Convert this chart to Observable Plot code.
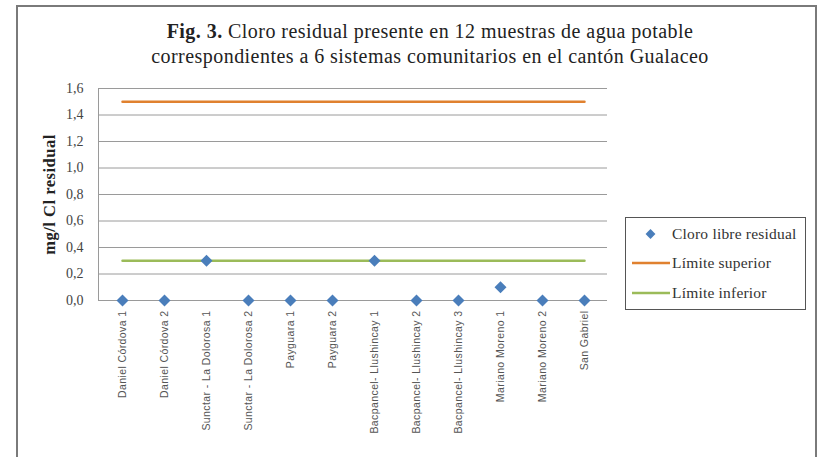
<!DOCTYPE html>
<html>
<head>
<meta charset="utf-8">
<script src="https://cdn.jsdelivr.net/npm/d3@7"></script>
<script src="https://cdn.jsdelivr.net/npm/@observablehq/plot@0.6"></script>
<style>
  html, body { margin: 0; padding: 0; background: #fff; width: 823px; height: 457px; overflow: hidden; }
  #frame { position: absolute; left: 16px; top: 5px; width: 801px; height: 470px; border: 2px solid #7a7a7a; border-bottom: none; box-sizing: border-box; }
  #title { position: absolute; left: 80px; width: 700px; top: 19px; text-align: center; font-family: "Liberation Serif", serif; font-size: 20px; letter-spacing: 0.45px; line-height: 25px; color: #222; }
  #chart { position: absolute; left: 0; top: 0; }
  #chart svg g[aria-label="y-axis tick label"] text { font-family: "Liberation Serif", serif; }
  #chart svg g[aria-label="y-axis label"] text { font-family: "Liberation Serif", serif; font-weight: bold; font-size: 16.5px; letter-spacing: 0.5px; fill: #222; }
  #chart svg g[aria-label="x-axis tick label"] text { letter-spacing: 0.4px; }
  #legend { position: absolute; left: 625px; top: 217px; width: 181px; height: 93px; border: 1px solid #555; box-sizing: border-box; font-family: "Liberation Serif", serif; font-size: 15.5px; letter-spacing: 0.2px; color: #333; background: #fff; }
  .li { position: absolute; left: 6px; height: 20px; display: flex; align-items: center; }
  .li svg { width: 38px; height: 14px; margin-right: 2px; }
</style>
</head>
<body>
<div id="frame"></div>
<div id="title"><b>Fig. 3.</b> Cloro residual presente en 12 muestras de agua potable<br>correspondientes a 6 sistemas comunitarios en el cantón Gualaceo</div>
<div id="chart"></div>
<div id="legend"></div>
<script>
const categories = [
  "Daniel Córdova 1", "Daniel Córdova 2",
  "Sunctar - La Dolorosa 1", "Sunctar - La Dolorosa 2",
  "Payguara 1", "Payguara 2",
  "Bacpancel- Llushincay 1", "Bacpancel- Llushincay 2", "Bacpancel- Llushincay 3",
  "Mariano Moreno 1", "Mariano Moreno 2", "San Gabriel"
];
const cloroLibre = [0, 0, 0.3, 0, 0, 0, 0.3, 0, 0, 0.1, 0, 0];
const limiteSuperior = 1.5;
const limiteInferior = 0.3;
const yTicks = [0, 0.2, 0.4, 0.6, 0.8, 1.0, 1.2, 1.4, 1.6];
const seriesNames = ["Cloro libre residual", "Límite superior", "Límite inferior"];
const colors = { point: "#4a7ebb", sup: "#e0812f", inf: "#9bbb59" };

const pts = categories.map((c, i) => ({ cat: c, v: cloroLibre[i] }));
const sup = categories.map(c => ({ cat: c, v: limiteSuperior }));
const inf = categories.map(c => ({ cat: c, v: limiteInferior }));

const chart = Plot.plot({
  width: 823,
  height: 457,
  marginLeft: 98,
  marginRight: 216,
  marginTop: 88,
  marginBottom: 157,
  style: { background: "transparent", overflow: "visible" },
  x: { type: "point", domain: categories, padding: 0.5, align: 0.5 },
  y: { domain: [0, 1.6] },
  marks: [
    Plot.gridY(yTicks, { stroke: "#9a9a9a", strokeOpacity: 1, strokeWidth: 1 }),
    Plot.frame({ anchor: "left", stroke: "#9a9a9a" }),
    Plot.axisY({ ticks: yTicks, tickFormat: d => d.toFixed(1).replace(".", ","), tickSize: 0, tickPadding: 15, fontSize: 14, fill: "#444",
      label: "mg/l Cl residual", labelAnchor: "center", labelArrow: "none", labelOffset: 55 }),
    Plot.axisX({ tickRotate: -90, tickSize: 0, tickPadding: 10, fontSize: 10.5, fontFamily: "Liberation Sans, Arial, sans-serif", fill: "#555", label: null }),
    Plot.line(sup, { x: "cat", y: "v", stroke: colors.sup, strokeWidth: 2.5 }),
    Plot.line(inf, { x: "cat", y: "v", stroke: colors.inf, strokeWidth: 2.5 }),
    Plot.dot(pts, { x: "cat", y: "v", symbol: "square", rotate: 45, r: 4.8, fill: colors.point, stroke: "none" })
  ]
});
document.getElementById("chart").appendChild(chart);

// legend
const legend = document.getElementById("legend");
const swatches = [
  `<svg viewBox="0 0 38 14"><rect x="15" y="3.5" width="7" height="7" transform="rotate(45 18.5 7)" fill="${colors.point}"/></svg>`,
  `<svg viewBox="0 0 38 14"><line x1="0" x2="38" y1="7" y2="7" stroke="${colors.sup}" stroke-width="2.5"/></svg>`,
  `<svg viewBox="0 0 38 14"><line x1="0" x2="38" y1="7" y2="7" stroke="${colors.inf}" stroke-width="2.5"/></svg>`
];
const tops = [6, 35, 65];
seriesNames.forEach((n, i) => {
  const d = document.createElement("div");
  d.className = "li";
  d.style.top = tops[i] + "px";
  d.innerHTML = swatches[i] + `<span>${n}</span>`;
  legend.appendChild(d);
});
</script>
</body>
</html>
